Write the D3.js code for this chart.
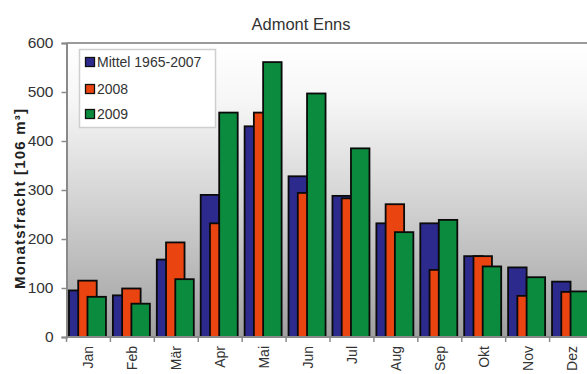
<!DOCTYPE html>
<html>
<head>
<meta charset="utf-8">
<script src="https://cdn.jsdelivr.net/npm/d3@7"></script>
<style>
  html, body { margin: 0; padding: 0; background: #fff; overflow: hidden; }
  svg { display: block; font-family: "Liberation Sans", Arial, sans-serif; }
</style>
</head>
<body>
<svg id="chart" width="587" height="374"></svg>
<script>
// Monthly load (Monatsfracht) at Admont / Enns, in 10^6 m³
const months = ["Jan", "Feb", "Mär", "Apr", "Mai", "Jun", "Jul", "Aug", "Sep", "Okt", "Nov", "Dez"];
const seriesNames = ["Mittel 1965-2007", "2008", "2009"];
const mittel = [95, 85, 158, 290, 430, 328, 288, 232, 232, 165, 142, 113];
const y2008  = [115, 99, 193, 232, 458, 294, 283, 271, 137, 165, 84, 92];
const y2009  = [82, 68, 118, 458, 561, 497, 385, 214, 239, 144, 122, 93];
const yTicks = [0, 100, 200, 300, 400, 500, 600];
const colors = ["#2d2a8e", "#ea4410", "#0b8b3d"];

const series = [mittel, y2008, y2009];

const svg = d3.select("#chart");
const plot = { left: 66.5, top: 43, right: 593.5, bottom: 337 };

const x = d3.scaleBand().domain(months).range([plot.left, plot.right]).padding(0);
const y = d3.scaleLinear().domain([0, 600]).range([plot.bottom, plot.top]);

// plot background: white fading into grey towards the baseline
const defs = svg.append("defs");
const grad = defs.append("linearGradient")
  .attr("id", "bg").attr("x1", 0).attr("y1", 0).attr("x2", 0).attr("y2", 1);
grad.append("stop").attr("offset", "0%").attr("stop-color", "#ffffff");
grad.append("stop").attr("offset", "20%").attr("stop-color", "#f6f6f6");
grad.append("stop").attr("offset", "55%").attr("stop-color", "#d2d2d2");
grad.append("stop").attr("offset", "100%").attr("stop-color", "#a0a0a0");

svg.append("rect")
  .attr("x", plot.left).attr("y", plot.top)
  .attr("width", plot.right - plot.left).attr("height", plot.bottom - plot.top)
  .attr("fill", "url(#bg)");

// top frame line
svg.append("line")
  .attr("x1", plot.left).attr("x2", plot.right)
  .attr("y1", plot.top).attr("y2", plot.top)
  .attr("stroke", "#9a9a9a").attr("stroke-width", 2);

// overlapping bars: each series shifted by half a bar width
const barW = 18.5;
const groupSpan = barW * 2;
const groupOffset = (x.step() - groupSpan) / 2 - 1;

const bars = svg.append("g");
series.forEach((vals, si) => {
  bars.append("g")
    .selectAll("rect")
    .data(vals)
    .join("rect")
    .attr("x", (d, i) => x(months[i]) + groupOffset + si * barW / 2)
    .attr("y", d => y(d))
    .attr("width", barW)
    .attr("height", d => y(0) - y(d))
    .attr("fill", colors[si])
    .attr("stroke", "#0a0a0a")
    .attr("stroke-width", 1.8);
});

// y axis
const yAxis = svg.append("g")
  .attr("transform", `translate(${plot.left},0)`)
  .call(d3.axisLeft(y).tickValues(yTicks).tickSize(5).tickPadding(8));
yAxis.select(".domain").attr("stroke", "#8a8a8a").attr("stroke-width", 2);
yAxis.selectAll(".tick line").attr("stroke", "#8a8a8a").attr("stroke-width", 1.5);
yAxis.selectAll(".tick text").attr("fill", "#333").attr("font-size", 15.5)
  .attr("font-family", "'Liberation Sans', Arial, sans-serif");

// x axis: boundary ticks between months, labels rotated
const xAxis = svg.append("g").attr("transform", `translate(0,${plot.bottom})`);
xAxis.append("line")
  .attr("x1", plot.left).attr("x2", plot.right)
  .attr("stroke", "#8a8a8a").attr("stroke-width", 2);
xAxis.selectAll("line.bt")
  .data(months.concat(["_end"]))
  .join("line")
  .attr("class", "bt")
  .attr("x1", (d, i) => plot.left + i * x.step())
  .attr("x2", (d, i) => plot.left + i * x.step())
  .attr("y1", 0).attr("y2", 5)
  .attr("stroke", "#8a8a8a").attr("stroke-width", 1.5);

xAxis.selectAll("text.ml")
  .data(months)
  .join("text")
  .attr("class", "ml")
  .attr("transform", d => `translate(${x(d) + x.bandwidth() / 2 + 5},9) rotate(-90)`)
  .attr("text-anchor", "end")
  .attr("font-size", 14)
  .attr("fill", "#333")
  .text(d => d);

// title
svg.append("text")
  .attr("x", 301).attr("y", 30)
  .attr("text-anchor", "middle")
  .attr("font-size", 16.5)
  .attr("fill", "#333")
  .text("Admont Enns");

// y axis title
svg.append("text")
  .attr("transform", "translate(25,199) rotate(-90)")
  .attr("text-anchor", "middle")
  .attr("font-size", 15)
  .attr("font-weight", "bold")
  .attr("fill", "#222")
  .attr("textLength", 180)
  .attr("lengthAdjust", "spacing")
  .text("Monatsfracht [106 m³]");

// legend
const legend = svg.append("g");
legend.append("rect")
  .attr("x", 79.5).attr("y", 49.5).attr("width", 136).attr("height", 78)
  .attr("fill", "#fff").attr("stroke", "#cfcfcf").attr("stroke-width", 1.5);
const rowY = [62, 89, 114];
seriesNames.forEach((name, i) => {
  legend.append("rect")
    .attr("x", 85.5).attr("y", rowY[i] - 4.5).attr("width", 9).attr("height", 9)
    .attr("fill", colors[i]).attr("stroke", "#111").attr("stroke-width", 1.3);
  legend.append("text")
    .attr("x", 97).attr("y", rowY[i] + 5)
    .attr("font-size", 14)
    .attr("fill", "#333")
    .text(name);
});
</script>
</body>
</html>
